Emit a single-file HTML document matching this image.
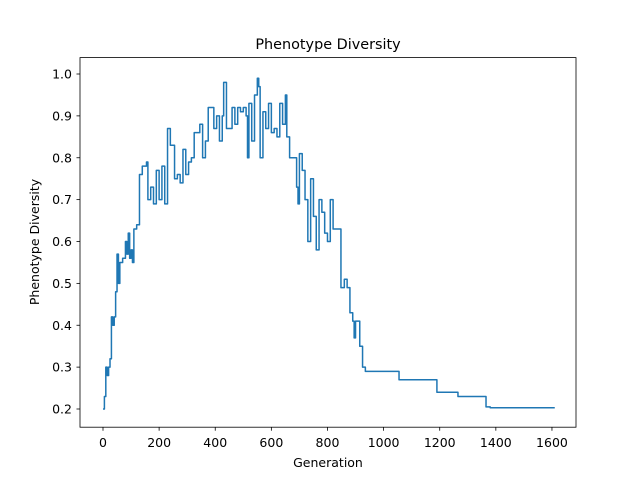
<!DOCTYPE html>
<html><head><meta charset="utf-8"><style>
body{margin:0;background:#fff;}
svg text{font-family:"DejaVu Sans","Liberation Sans",sans-serif;fill:#000;}
</style></head><body>
<svg id="chart" width="640" height="480" viewBox="0 0 640 480">
<rect width="640" height="480" fill="#fff"/>
<text x="328" y="49" font-size="14.4" text-anchor="middle">Phenotype Diversity</text>
<g id="xt"></g>
<g id="yt"></g>
<path id="line" fill="none" stroke="#1f77b4" stroke-width="1.5" stroke-linejoin="round"/>
<rect x="80" y="57.6" width="496" height="369.6" fill="none" stroke="#000" stroke-width="0.8"/>
<text x="328" y="467" font-size="12.5" text-anchor="middle">Generation</text>
<text transform="translate(39,242) rotate(-90)" font-size="12.5" text-anchor="middle">Phenotype Diversity</text>
</svg>
<script>
const generations=[0,5,10,15,20,25,30,35,40,45,50,55,60,70,80,85,90,95,100,105,110,120,130,140,155,160,170,180,190,200,210,220,230,240,250,255,265,275,285,295,305,315,325,335,345,355,365,375,385,395,405,415,425,430,440,450,460,470,480,490,500,510,515,520,530,540,550,555,560,570,580,590,600,610,620,630,640,650,655,665,680,690,695,700,710,720,730,740,750,760,770,780,790,800,810,820,830,845,848,860,870,880,890,895,900,915,925,935,1055,1190,1265,1365,1380,1610];
const diversity=[0.20,0.23,0.30,0.28,0.30,0.32,0.42,0.40,0.42,0.48,0.57,0.50,0.55,0.56,0.60,0.57,0.62,0.56,0.58,0.55,0.63,0.64,0.76,0.78,0.79,0.70,0.73,0.69,0.77,0.70,0.78,0.69,0.87,0.83,0.83,0.75,0.76,0.74,0.82,0.76,0.79,0.80,0.86,0.86,0.88,0.80,0.84,0.92,0.92,0.87,0.90,0.84,0.90,0.98,0.87,0.87,0.92,0.88,0.92,0.91,0.92,0.90,0.80,0.93,0.84,0.95,0.99,0.97,0.80,0.91,0.87,0.93,0.86,0.87,0.85,0.93,0.88,0.95,0.85,0.80,0.80,0.73,0.69,0.81,0.77,0.70,0.60,0.75,0.66,0.58,0.70,0.67,0.62,0.60,0.70,0.63,0.63,0.63,0.49,0.51,0.49,0.43,0.41,0.37,0.41,0.35,0.30,0.29,0.27,0.24,0.23,0.205,0.203,0.203];
const xTicks=[0,200,400,600,800,1000,1200,1400,1600];
const yTicks=[0.2,0.3,0.4,0.5,0.6,0.7,0.8,0.9,1.0];
const ns="http://www.w3.org/2000/svg";
function xs(v){return 103+v*0.2806;}
function ys(v){return 409-(v-0.2)*418.75;}
const xg=document.getElementById('xt'),yg=document.getElementById('yt');
xTicks.forEach(t=>{
 const l=document.createElementNS(ns,'line');
 
 
 l.setAttribute('x1',xs(t));l.setAttribute('x2',xs(t));l.setAttribute('y1',427.2);l.setAttribute('y2',430.7);l.setAttribute('stroke','#000');l.setAttribute('stroke-width','0.8');xg.appendChild(l);
 const s=document.createElementNS(ns,'text');
 
 
 s.setAttribute('x',xs(t));s.setAttribute('y',447);s.setAttribute('font-size','12.5');s.setAttribute('text-anchor','middle');s.textContent=t;xg.appendChild(s);
});
yTicks.forEach(t=>{
 const l=document.createElementNS(ns,'line');
 
 
 l.setAttribute('x1',76.5);l.setAttribute('x2',80);l.setAttribute('y1',ys(t));l.setAttribute('y2',ys(t));l.setAttribute('stroke','#000');l.setAttribute('stroke-width','0.8');yg.appendChild(l);
 const s=document.createElementNS(ns,'text');
 
 
 s.setAttribute('x',72);s.setAttribute('y',ys(t)+4.5);s.setAttribute('font-size','12.5');s.setAttribute('text-anchor','end');s.textContent=t.toFixed(1);yg.appendChild(s);
});
let d='';
generations.forEach((g,i)=>{
 if(i===0){d+='M'+xs(g)+','+ys(diversity[i]);}
 else{d+='H'+xs(g)+'V'+ys(diversity[i]);}
});
document.getElementById('line').setAttribute('d',d);
</script>
</body></html>
